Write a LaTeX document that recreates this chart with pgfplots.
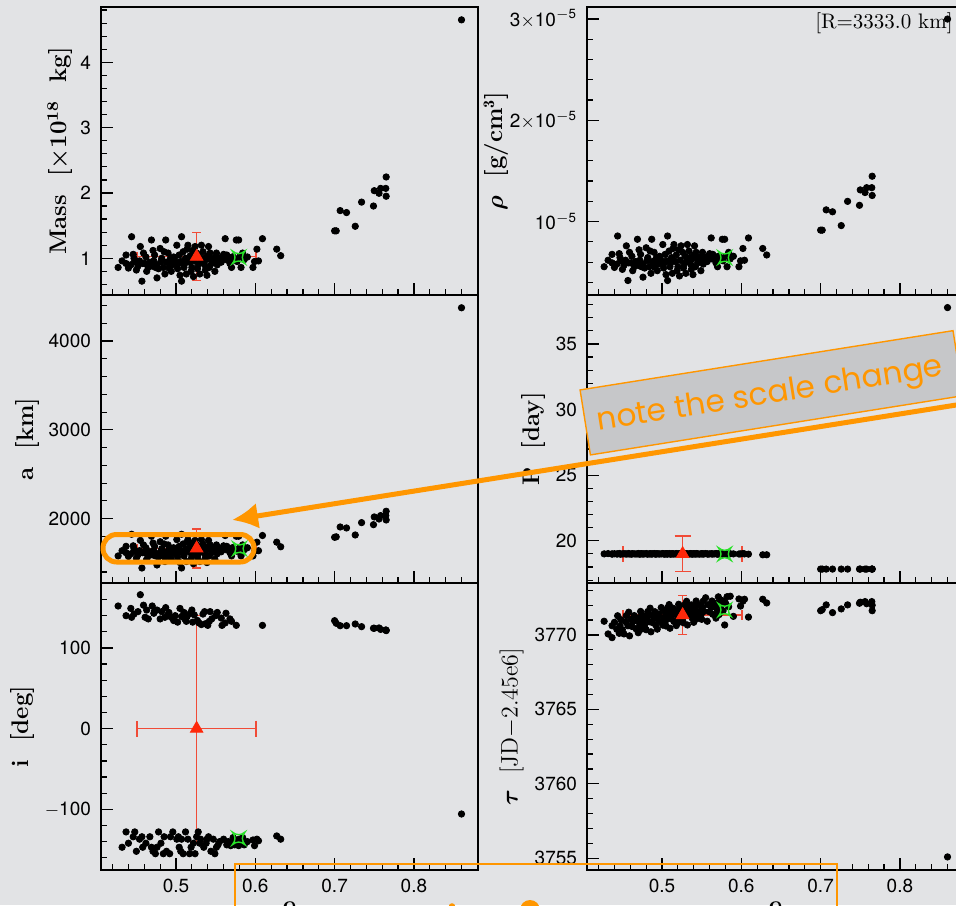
\documentclass[border=0pt]{standalone}
\usepackage{fontspec}
\usepackage{bm}
\usepackage{pgfplots}
\pgfplotsset{compat=1.18}
\usepackage{pgfplotstable}
\usetikzlibrary{arrows.meta}
\newfontfamily\ticksf{TeX Gyre Heros}
\newfontfamily\comic{Poppins}
\definecolor{bg}{RGB}{226,227,229}
\definecolor{boxgray}{RGB}{198,199,201}
\definecolor{orangeC}{RGB}{255,150,0}
\definecolor{errRed}{RGB}{240,75,55}
\definecolor{triRed}{RGB}{255,40,10}
\definecolor{starGreen}{RGB}{40,225,40}

\pgfdeclareplotmark{astar}{%
  \pgfpathmoveto{\pgfqpoint{\pgfplotmarksize}{\pgfplotmarksize}}%
  \pgfpathquadraticcurveto{\pgfqpoint{0.15\pgfplotmarksize}{0pt}}{\pgfqpoint{\pgfplotmarksize}{-\pgfplotmarksize}}%
  \pgfpathquadraticcurveto{\pgfqpoint{0pt}{-0.15\pgfplotmarksize}}{\pgfqpoint{-\pgfplotmarksize}{-\pgfplotmarksize}}%
  \pgfpathquadraticcurveto{\pgfqpoint{-0.15\pgfplotmarksize}{0pt}}{\pgfqpoint{-\pgfplotmarksize}{\pgfplotmarksize}}%
  \pgfpathquadraticcurveto{\pgfqpoint{0pt}{0.15\pgfplotmarksize}}{\pgfqpoint{\pgfplotmarksize}{\pgfplotmarksize}}%
  \pgfpathclose\pgfusepathqstroke}

\pgfplotstableread{
e m rho a P i tau
0.427 0.86 0.555 1580 19.00 152 3770.92
0.432 0.96 0.619 1639 19.02 -147 3770.07
0.437 1.05 0.677 1688 18.98 -128 3770.62
0.437 0.92 0.593 1616 19.00 140 3769.82
0.440 0.85 0.548 1574 19.01 -142 3770.85
0.443 0.90 0.581 1604 18.99 149 3770.38
0.444 1.33 0.858 1824 19.00 138 3771.29
0.446 1.06 0.684 1694 19.02 -134 3770.11
0.447 1.00 0.645 1661 19.00 142 3770.62
0.448 0.95 0.613 1633 18.98 -128 3771.03
0.450 0.82 0.529 1555 19.00 -152 3770.35
0.452 0.88 0.568 1592 19.01 145 3770.07
0.454 0.96 0.619 1639 19.00 -137 3770.89
0.455 1.18 0.761 1755 18.99 166 3771.30
0.457 0.65 0.419 1444 19.00 -134 3770.62
0.458 0.92 0.593 1616 19.02 -147 3771.53
0.459 1.08 0.697 1704 19.00 153 3769.94
0.461 0.92 0.593 1616 18.98 138 3771.06
0.462 1.02 0.658 1672 19.00 -142 3770.57
0.463 0.80 0.516 1543 19.01 147 3770.88
0.465 0.86 0.555 1580 19.00 136 3771.30
0.467 0.94 0.606 1627 18.99 -134 3770.42
0.469 1.28 0.826 1802 19.00 -147 3770.94
0.470 0.88 0.568 1592 19.02 152 3770.15
0.471 1.12 0.722 1725 19.00 -152 3771.16
0.472 0.96 0.619 1639 18.98 143 3770.67
0.473 1.05 0.677 1688 19.00 146 3771.58
0.474 0.86 0.555 1580 19.01 -155 3770.39
0.476 0.70 0.452 1478 19.00 147 3770.91
0.476 0.90 0.581 1604 18.99 -147 3771.31
0.478 0.84 0.542 1568 19.00 -128 3770.63
0.480 1.15 0.742 1740 19.02 136 3770.35
0.481 0.95 0.613 1633 19.00 -142 3771.16
0.482 1.00 0.645 1661 18.98 145 3771.57
0.484 0.86 0.555 1580 19.00 -155 3770.89
0.485 1.10 0.710 1715 19.01 -134 3771.80
0.486 0.76 0.490 1517 19.00 138 3770.21
0.487 1.28 0.826 1802 18.99 150 3771.32
0.488 0.94 0.606 1627 19.00 -152 3770.83
0.490 1.08 0.697 1704 19.02 141 3771.15
0.491 0.85 0.548 1574 19.00 144 3771.56
0.492 0.92 0.593 1616 18.98 -155 3770.67
0.493 1.00 0.645 1661 19.00 -134 3771.18
0.494 0.80 0.516 1543 19.01 138 3770.39
0.496 0.90 0.581 1604 19.00 -128 3771.41
0.497 1.02 0.658 1672 18.99 134 3770.92
0.499 0.96 0.619 1639 19.00 140 3771.84
0.501 1.20 0.774 1764 19.02 -137 3770.66
0.502 0.84 0.542 1568 19.00 132 3771.17
0.503 0.92 0.593 1616 18.98 -134 3771.58
0.504 1.05 0.677 1688 19.00 -147 3770.89
0.505 0.74 0.477 1505 19.01 149 3770.60
0.506 0.95 0.613 1633 19.00 -152 3771.41
0.507 1.33 0.858 1824 18.99 139 3771.82
0.507 0.65 0.419 1444 19.00 -137 3771.12
0.509 1.10 0.710 1715 19.02 -155 3772.04
0.510 0.86 0.555 1580 19.00 144 3770.45
0.511 0.92 0.593 1616 18.98 136 3771.56
0.512 1.00 0.645 1661 19.00 -128 3771.07
0.513 0.76 0.490 1517 19.01 133 3771.38
0.514 1.14 0.735 1735 19.00 139 3771.79
0.515 1.20 0.774 1764 18.99 -137 3770.90
0.517 0.94 0.606 1627 19.00 -155 3771.42
0.518 1.04 0.671 1683 19.02 143 3770.63
0.519 0.80 0.516 1543 19.00 -147 3771.64
0.520 0.86 0.555 1580 18.98 147 3771.15
0.521 1.12 0.722 1725 19.00 132 3772.06
0.522 0.72 0.464 1492 19.01 -142 3770.87
0.523 0.96 0.619 1639 19.00 141 3771.38
0.524 1.18 0.761 1755 18.99 -155 3771.79
0.526 1.08 0.697 1704 19.00 -134 3771.11
0.527 0.84 0.542 1568 19.02 134 3770.82
0.528 0.90 0.581 1604 19.00 -128 3771.63
0.529 1.02 0.658 1672 18.98 131 3772.04
0.530 0.76 0.490 1517 19.00 -142 3771.35
0.531 0.94 0.606 1627 19.01 -137 3772.26
0.532 1.20 0.774 1764 19.00 129 3770.67
0.534 1.10 0.710 1715 18.99 142 3771.79
0.535 1.00 0.645 1661 19.00 -147 3771.30
0.536 0.90 0.581 1604 19.02 145 3771.61
0.537 0.82 0.529 1555 19.00 130 3772.02
0.538 0.98 0.632 1650 18.98 -142 3771.13
0.539 0.74 0.477 1505 19.00 -137 3771.64
0.540 1.04 0.671 1683 19.01 128 3770.85
0.541 1.18 0.761 1755 19.00 -134 3771.86
0.542 0.86 0.555 1580 18.99 133 3771.37
0.543 1.08 0.697 1704 19.00 145 3772.28
0.544 1.00 0.645 1661 19.02 -152 3771.09
0.545 0.92 0.593 1616 19.00 136 3771.60
0.547 0.96 0.619 1639 18.98 -137 3772.02
0.549 0.80 0.516 1543 19.00 -155 3771.34
0.550 1.02 0.658 1672 19.01 140 3771.05
0.551 1.08 0.697 1704 19.00 -147 3771.86
0.552 0.90 0.581 1604 18.99 144 3772.27
0.553 0.96 0.619 1639 19.00 -144 3771.58
0.555 1.00 0.645 1661 19.02 -140 3772.50
0.557 0.94 0.606 1627 19.00 137 3770.92
0.558 1.02 0.658 1672 18.98 128 3772.03
0.560 1.06 0.684 1694 19.00 -137 3771.55
0.562 1.30 0.839 1810 19.01 131 3771.87
0.563 0.98 0.632 1650 19.00 143 3772.28
0.564 1.05 0.677 1688 18.99 -144 3771.39
0.566 1.00 0.645 1661 19.00 -140 3771.91
0.568 0.92 0.593 1616 19.02 136 3771.13
0.569 0.96 0.619 1639 19.00 -145 3772.14
0.570 0.86 0.555 1580 18.98 133 3771.65
0.571 1.02 0.658 1672 19.00 -142 3772.56
0.572 1.02 0.658 1672 19.01 -135 3771.37
0.574 0.98 0.632 1650 19.00 -144 3771.89
0.576 1.28 0.826 1802 18.99 128 3772.31
0.577 0.95 0.613 1633 19.00 -138 3771.62
0.579 1.28 0.826 1802 19.02 -145 3770.67
0.580 1.02 0.658 1672 19.00 -137 3772.15
0.582 0.86 0.555 1580 18.98 -142 3772.57
0.584 1.08 0.697 1704 19.00 -135 3771.89
0.586 0.98 0.632 1650 19.01 -144 3772.60
0.590 1.02 0.658 1672 19.00 -140 3771.25
0.597 0.86 0.555 1580 18.99 -138 3772.42
0.599 0.95 0.613 1633 19.00 -145 3771.94
0.602 1.14 0.735 1735 19.02 -137 3772.27
0.604 0.96 0.619 1639 19.00 -139 3772.40
0.609 1.30 0.839 1810 18.98 128 3771.20
0.627 1.14 0.735 1735 18.93 -133 3772.40
0.632 1.04 0.671 1683 18.93 -137 3772.15
0.700 1.42 0.916 1790 17.84 133.8 3771.63
0.702 1.42 0.916 1795 17.84 130.6 3771.70
0.707 1.73 1.116 1906 17.84 127.6 3772.02
0.715 1.70 1.097 1895 17.84 127.6 3771.50
0.726 1.49 0.961 1816 17.84 129.7 3771.75
0.734 1.86 1.200 1955 17.84 126.4 3772.02
0.749 1.80 1.161 1932 17.84 124.4 3772.13
0.750 2.035 1.313 2019 17.84 124.4 3772.20
0.756 1.995 1.287 1996 17.84 124.8 3772.24
0.758 2.07 1.335 2034 17.84 123.0 3772.10
0.7645 2.07 1.335 2034 17.84 122.3 3772.24
0.765 2.245 1.448 2083 17.84 122.0 3772.00
0.765 1.95 1.258 1985 17.84 121.5 3771.63
0.860 4.65 2.999 4375 37.77 -105.8 3755.09
}\samples

\pgfplotsset{
  panel/.style={
    scale only axis, width=188.5pt, anchor=south west,
    xmin=0.4054, xmax=0.8808,
    xtick={0.5,0.6,0.7,0.8},
    minor xtick={0.42,0.44,0.46,0.48,0.52,0.54,0.56,0.58,0.62,0.64,0.66,0.68,0.72,0.74,0.76,0.78,0.82,0.84,0.86,0.88},
    tick pos=left, tick align=inside,
    major tick length=6pt, minor tick length=3pt,
    every tick/.append style={line width=0.6pt, black},
    axis line style={line width=0.9pt},
    xticklabels={},
    tick label style={font=\ticksf\fontsize{9.5}{10}\selectfont},
    yticklabel style={xshift=-1.5pt},
    xticklabel style={yshift=-1pt},
    /pgf/number format/assume math mode=true,
    /pgf/number format/set thousands separator={},
    scaled ticks=false,
    ylabel style={rotate=0, anchor=center, font=\bfseries\fontsize{12}{14}\selectfont},
  },
  dots/.style={only marks, mark=*, mark size=1.6pt, black, mark options={draw=black, fill=black}},
  meanpt/.style={only marks, mark=triangle*, mark size=3.6pt, color=triRed,
    mark options={fill=triRed, draw=triRed},
    error bars/.cd, x dir=both, x explicit, y dir=both, y explicit,
    error bar style={errRed, line width=0.75pt},
    error mark=-,
    error mark options={rotate=90, draw=errRed, line width=0.75pt, mark size=#1}},
  meanpt/.default=2.3pt,
  truept/.style={only marks, mark=astar, mark size=3.2pt, color=starGreen, line width=0.7pt},
}

\begin{document}
\begin{tikzpicture}
\useasboundingbox (0,0) rectangle (478pt,452.5pt);
\clip (0,0) rectangle (478pt,452.5pt);
\fill[bg] (0,0) rectangle (478pt,452.5pt);

% ---- Mass
\begin{axis}[panel, at={(50.5pt,305pt)}, height=144pt,
  ymin=0.438, ymax=4.847, ytick={1,2,3,4},
  minor ytick={0.6,0.8,1.2,1.4,1.6,1.8,2.2,2.4,2.6,2.8,3.2,3.4,3.6,3.8,4.2,4.4,4.6,4.8},
  ylabel={Mass~~[×10\textsuperscript{18}~~kg]},
  ylabel style={at={(axis description cs:-0.109,0.5)}}]
\addplot[dots] table[x=e, y=m] {\samples};
\addplot[meanpt] coordinates {(0.526,1.025) +- (0.075,0.367)};
\addplot[truept] coordinates {(0.579,1.015)};
\end{axis}

% ---- rho
\begin{axis}[panel, at={(293.5pt,305pt)}, height=144pt,
  ymin=0.276, ymax=3.118, ytick={1,2,3},
  yticklabels={10\textsuperscript{$-$5}, 2$\times$10\textsuperscript{$-$5}, 3$\times$10\textsuperscript{$-$5}},
  yticklabel style={xshift=0pt},
  minor ytick={0.4,0.6,0.8,1.2,1.4,1.6,1.8,2.2,2.4,2.6,2.8},
  ylabel={$\bm{\rho}$~~[g/cm$^{\mathbf{3}}$]},
  ylabel style={at={(axis description cs:-0.241,0.5)}}]
\addplot[dots] table[x=e, y=rho] {\samples};
\addplot[truept] coordinates {(0.579,0.645)};
\node[anchor=east, font=\fontsize{10.5}{12}\selectfont, inner sep=0pt] at (axis description cs:0.971,0.944) {[R=3333.0~km]};
\end{axis}

% ---- a
\begin{axis}[panel, at={(50.5pt,161pt)}, height=144pt,
  ymin=1275, ymax=4519, ytick={2000,3000,4000},
  minor ytick={1400,1600,1800,2200,2400,2600,2800,3200,3400,3600,3800,4200,4400},
  ylabel={a~~[km]},
  ylabel style={at={(axis description cs:-0.196,0.5)}}]
\addplot[dots] table[x=e, y=a] {\samples};
\addplot[meanpt] coordinates {(0.526,1666) +- (0.075,220)};
\addplot[truept] coordinates {(0.580,1662)};
\end{axis}

% ---- P
\begin{axis}[panel, at={(293.5pt,161pt)}, height=144pt,
  ymin=16.78, ymax=38.73, ytick={20,25,30,35},
  minor ytick={17,18,19,21,22,23,24,26,27,28,29,31,32,33,34,36,37,38},
  ylabel={P~~[day]},
  ylabel style={at={(axis description cs:-0.141,0.5)}}]
\addplot[dots] table[x=e, y=P] {\samples};
\addplot[meanpt=4pt] coordinates {(0.526,19.0) +- (0.075,1.36)};
\addplot[truept] coordinates {(0.579,18.99)};
\end{axis}

% ---- i
\begin{axis}[panel, at={(50.5pt,17.5pt)}, height=143.5pt,
  ymin=-175.2, ymax=180.5, ytick={-100,0,100}, yticklabels={$-$100,0,100},
  minor ytick={-160,-140,-120,-80,-60,-40,-20,20,40,60,80,120,140,160,180},
  xticklabels={0.5,0.6,0.7,0.8},
  ylabel={i~~[deg]},
  ylabel style={at={(axis description cs:-0.208,0.5)}}]
\addplot[dots] table[x=e, y=i] {\samples};
\addplot[meanpt=4pt] coordinates {(0.526,0) +- (0.075,140)};
\addplot[truept] coordinates {(0.579,-136)};
\end{axis}

% ---- tau
\begin{axis}[panel, at={(293.5pt,17.5pt)}, height=143.5pt,
  ymin=3754.21, ymax=3773.49, ytick={3755,3760,3765,3770},
  minor ytick={3756,3757,3758,3759,3761,3762,3763,3764,3766,3767,3768,3769,3771,3772,3773},
  xticklabels={0.5,0.6,0.7,0.8},
  ylabel={$\bm{\tau}$~~[JD$-$2.45e6]},
  ylabel style={at={(axis description cs:-0.200,0.5)}, font=\fontsize{12}{14}\selectfont}]
\addplot[dots] table[x=e, y=tau] {\samples};
\addplot[meanpt] coordinates {(0.526,3771.34) +- (0.075,1.3)};
\addplot[truept] coordinates {(0.579,3771.68)};
\end{axis}

% ---- annotations (pixel coordinates, origin top-left)
\begin{scope}[x=0.5pt, y=-0.5pt, yshift=452.5pt]
  \node[font=\bfseries\fontsize{13}{14}\selectfont, anchor=north, inner sep=0pt] at (289.5,901) {e};
  \node[font=\bfseries\fontsize{13}{14}\selectfont, anchor=north, inner sep=0pt] at (775.5,901) {e};
  \draw[orangeC, line width=2.5pt, rounded corners=6.8pt] (103,534.5) rectangle (254,562);
  \node[fill=boxgray, draw=orangeC, line width=0.7pt, minimum width=188.8pt, minimum height=32.9pt,
        rotate=9.03, inner sep=0pt] at (771.7,392.8) {};
  \node[rotate=9.03, text=orangeC, font=\comic\fontsize{15.6}{18}\selectfont, inner sep=0pt] at (770,396) {note the scale change};
  \draw[orangeC, line width=2.5pt, -{Latex[length=13pt,width=13pt]}] (962,404.1) -- (232,520);
  \draw[orangeC, line width=1pt] (235,864) rectangle (837,930);
  \fill[orangeC] (530,910) circle (10);
  \fill[orangeC] (452,906.5) circle (3.3);
\end{scope}
\end{tikzpicture}
\end{document}
